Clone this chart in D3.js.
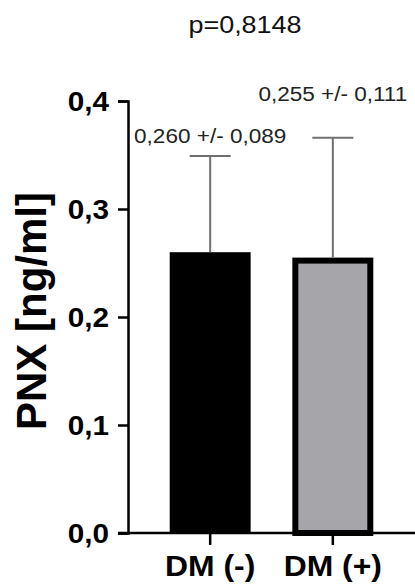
<!DOCTYPE html>
<html>
<head>
<meta charset="utf-8">
<script src="https://cdn.jsdelivr.net/npm/d3@7"></script>
<style>
  html, body { margin: 0; padding: 0; background: #fff; }
  svg { display: block; font-family: "Liberation Sans", Arial, sans-serif; }
</style>
</head>
<body>
<svg id="chart" width="415" height="588"></svg>
<script>
// data
const groups = ['DM (-)', 'DM (+)'];
const means = [0.260, 0.255];
const sds = [0.089, 0.111];
const yTicks = [0, 0.1, 0.2, 0.3, 0.4];
const pValue = 'p=0,8148';
const yTitle = 'PNX [ng/ml]';

const svg = d3.select('#chart');
const W = 415, H = 588;
const SX = 1.1; // the original figure is a bit wider than tall, text looks stretched

// comma decimals like the original
const comma = f => v => d3.format(f)(v).replace('.', ',');
const f1 = comma('.1f'), f3 = comma('.3f');

const x = d3.scaleBand().domain(groups).range([128, 415])
  .paddingInner(0.34).paddingOuter(0.34);
const y = d3.scaleLinear().domain([0, 0.4]).range([533, 101]);

const fills = ['#000000', '#a6a5aa'];
const borders = [0, 6];
const labelLift = [13, 37]; // annotation distance above each error cap

const rows = groups.map((g, i) => ({ g, m: means[i], sd: sds[i], i }));
const cx = d => x(d.g) + x.bandwidth() / 2;

// bars
svg.selectAll('rect.bar')
  .data(rows)
  .join('rect')
  .attr('class', 'bar')
  .attr('x', d => x(d.g) + borders[d.i] / 2)
  .attr('y', d => y(d.m) + borders[d.i] / 2)
  .attr('width', d => x.bandwidth() - borders[d.i])
  .attr('height', d => y(0) - y(d.m) - borders[d.i] / 2)
  .attr('fill', d => fills[d.i])
  .attr('stroke', '#000')
  .attr('stroke-width', d => borders[d.i]);

// error bars (upper only)
const eb = svg.selectAll('g.err').data(rows).join('g').attr('class', 'err')
  .attr('stroke', '#707070').attr('stroke-width', 2);
eb.append('line')
  .attr('x1', cx).attr('x2', cx)
  .attr('y1', d => y(d.m))
  .attr('y2', d => y(d.m + d.sd));
eb.append('line')
  .attr('x1', d => cx(d) - 20.5)
  .attr('x2', d => cx(d) + 20.5)
  .attr('y1', d => y(d.m + d.sd))
  .attr('y2', d => y(d.m + d.sd));

// mean +/- sd labels
svg.selectAll('text.ann').data(rows).join('text')
  .attr('class', 'ann')
  .attr('transform', d => `translate(${cx(d)},${y(d.m + d.sd) - labelLift[d.i]}) scale(${SX},1)`)
  .attr('text-anchor', 'middle')
  .attr('font-size', 20.5)
  .attr('fill', '#222')
  .text(d => `${f3(d.m)} +/- ${f3(d.sd)}`);

// y axis
const yAxis = svg.append('g')
  .attr('transform', 'translate(128,0)')
  .call(d3.axisLeft(y).tickValues(yTicks).tickFormat(f1).tickSize(10).tickPadding(9));
yAxis.select('.domain').attr('stroke-width', 2.5);
yAxis.selectAll('.tick line').attr('stroke-width', 2.5);
yAxis.selectAll('.tick text')
  .attr('x', -19 / SX)
  .attr('transform', `scale(${SX},1)`)
  .attr('font-size', 27).attr('font-weight', 'bold')
  .attr('font-family', '"Liberation Sans", Arial, sans-serif')
  .attr('fill', '#000').attr('dy', '0.36em');

// x axis
const xAxis = svg.append('g')
  .attr('transform', `translate(0,${y(0)})`)
  .call(d3.axisBottom(x).tickSize(12).tickSizeOuter(0).tickPadding(10));
xAxis.select('.domain').attr('d', `M118,0H${W}`).attr('stroke-width', 2.5);
xAxis.selectAll('.tick line').attr('stroke-width', 2.5);
xAxis.selectAll('.tick text')
  .attr('transform', `scale(${SX},1)`)
  .attr('font-size', 29).attr('font-weight', 'bold')
  .attr('font-family', '"Liberation Sans", Arial, sans-serif')
  .attr('fill', '#000');

// y title
svg.append('text')
  .attr('transform', 'translate(46,311) rotate(-90)')
  .attr('text-anchor', 'middle')
  .attr('font-size', 42)
  .attr('font-weight', 'bold')
  .text(yTitle);

// p value
svg.append('text')
  .attr('transform', `translate(245,33) scale(${SX},1)`)
  .attr('text-anchor', 'middle')
  .attr('font-size', 24.5)
  .attr('fill', '#111')
  .text(pValue);
</script>
</body>
</html>
